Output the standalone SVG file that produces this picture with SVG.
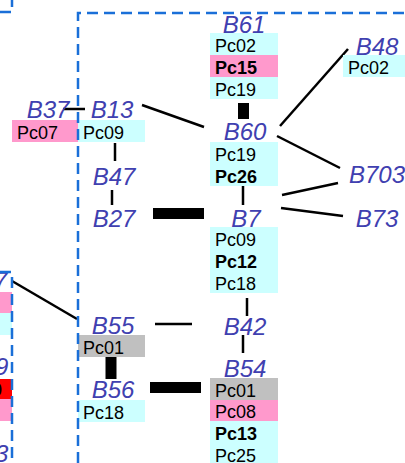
<svg xmlns="http://www.w3.org/2000/svg" width="405" height="463" viewBox="0 0 405 463">
<style>
.lbl{font-family:"Liberation Sans",Arial,sans-serif;font-style:italic;font-size:24px;fill:#4040b0;text-anchor:middle}
.lblf{font-family:"Liberation Sans",Arial,sans-serif;font-style:italic;font-size:24px;fill:#4040b0}
.pc{font-family:"Liberation Sans",Arial,sans-serif;font-size:18px;fill:#000}
.pcb{font-family:"Liberation Sans",Arial,sans-serif;font-size:18px;font-weight:bold;fill:#000}
.cy{fill:#ccffff}
.pk{fill:#ff99cc}
.gr{fill:#c0c0c0}
.rd{fill:#ff0000}
.ln{stroke:#000;stroke-width:2.5;fill:none}
.th{stroke:#000;stroke-width:11;fill:none}
.frame{stroke:#1a6fd8;stroke-width:2.5;fill:none;stroke-dasharray:11 6}
</style>
<rect width="405" height="463" fill="#fff"/>
<g id="connectors">
<line class="ln" x1="63" y1="109" x2="85" y2="109"/>
<line class="ln" x1="142" y1="105" x2="204" y2="127"/>
<line class="ln" x1="115" y1="143" x2="115" y2="161"/>
<line class="ln" x1="112" y1="190" x2="112" y2="205"/>
<line class="th" x1="153" y1="213.5" x2="204" y2="213.5"/>
<line class="th" x1="243.5" y1="103" x2="243.5" y2="119"/>
<line class="ln" x1="280" y1="126" x2="348" y2="49"/>
<line class="ln" x1="277" y1="136" x2="340" y2="168"/>
<line class="ln" x1="282" y1="195" x2="338" y2="183"/>
<line class="ln" x1="281" y1="208" x2="343" y2="216"/>
<line class="ln" x1="243" y1="186" x2="243" y2="205"/>
<line class="ln" x1="247" y1="298" x2="247" y2="316"/>
<line class="ln" x1="243" y1="335" x2="243" y2="353"/>
<line class="ln" x1="155" y1="324" x2="192" y2="324"/>
<line class="th" x1="111" y1="357" x2="111" y2="379"/>
<line class="th" x1="150" y1="387.5" x2="201" y2="387.5"/>
<line class="ln" x1="12" y1="281" x2="77" y2="319"/>
</g>
<g id="leftA">
<text class="lblf" x="-6" y="289">7</text>
<rect class="pk" x="-56" y="292" width="68" height="21"/>
<rect class="cy" x="-56" y="313" width="68" height="22"/>
</g>
<g id="leftB">
<text class="lblf" x="-5" y="375">9</text>
<rect class="rd" x="-56" y="379" width="68" height="20"/>
<text class="pcb" x="-8" y="396">0</text>
<rect class="pk" x="-56" y="399" width="68" height="22"/>
</g>
<g id="leftC">
<text class="lblf" x="-5" y="462">3</text>
</g>
<g id="B37">
<text class="lbl" x="48" y="118">B37</text>
<rect class="pk" x="12" y="120" width="66" height="22"/>
<text class="pc" x="17" y="139">Pc07</text>
</g>
<g id="B13">
<text class="lbl" x="112" y="118">B13</text>
<rect class="cy" x="78" y="120" width="67" height="22"/>
<text class="pc" x="83" y="139">Pc09</text>
</g>
<g id="B47">
<text class="lbl" x="114" y="185">B47</text>
</g>
<g id="B27">
<text class="lbl" x="114" y="227">B27</text>
</g>
<g id="B61">
<text class="lbl" x="244" y="33">B61</text>
<rect class="cy" x="210" y="33" width="68" height="22"/>
<rect class="pk" x="210" y="55" width="68" height="22"/>
<rect class="cy" x="210" y="77" width="68" height="22"/>
<text class="pc" x="215" y="52">Pc02</text>
<text class="pcb" x="215" y="74">Pc15</text>
<text class="pc" x="215" y="96">Pc19</text>
</g>
<g id="B60">
<text class="lbl" x="245" y="140">B60</text>
<rect class="cy" x="210" y="142" width="68" height="44"/>
<text class="pc" x="215" y="161">Pc19</text>
<text class="pcb" x="215" y="183">Pc26</text>
</g>
<g id="B48">
<text class="lbl" x="377" y="55">B48</text>
<rect class="cy" x="343" y="55" width="68" height="22"/>
<text class="pc" x="348" y="74">Pc02</text>
</g>
<g id="B703">
<text class="lbl" x="377" y="183">B703</text>
</g>
<g id="B73">
<text class="lbl" x="377" y="227">B73</text>
</g>
<g id="B7">
<text class="lbl" x="246" y="227">B7</text>
<rect class="cy" x="210" y="227" width="68" height="66"/>
<text class="pc" x="215" y="246">Pc09</text>
<text class="pcb" x="215" y="268">Pc12</text>
<text class="pc" x="215" y="290">Pc18</text>
</g>
<g id="B42">
<text class="lbl" x="245" y="335">B42</text>
</g>
<g id="B54">
<text class="lbl" x="245" y="377">B54</text>
<rect class="gr" x="210" y="378" width="68" height="22"/>
<rect class="pk" x="210" y="400" width="68" height="21"/>
<rect class="cy" x="210" y="421" width="68" height="44"/>
<text class="pc" x="215" y="397">Pc01</text>
<text class="pc" x="215" y="418">Pc08</text>
<text class="pcb" x="215" y="440">Pc13</text>
<text class="pc" x="215" y="462">Pc25</text>
</g>
<g id="B55">
<text class="lbl" x="113" y="334">B55</text>
<rect class="gr" x="78" y="335" width="67" height="22"/>
<text class="pc" x="83" y="354">Pc01</text>
</g>
<g id="B56">
<text class="lbl" x="113" y="398">B56</text>
<rect class="cy" x="78" y="400" width="67" height="22"/>
<text class="pc" x="83" y="419">Pc18</text>
</g>
<g id="frames">
<path class="frame" d="M0 12 H12 V0"/>
<path class="frame" d="M78 463 V13 H405"/>
<path class="frame" d="M0 272 H12 V463"/>
</g>
</svg>
